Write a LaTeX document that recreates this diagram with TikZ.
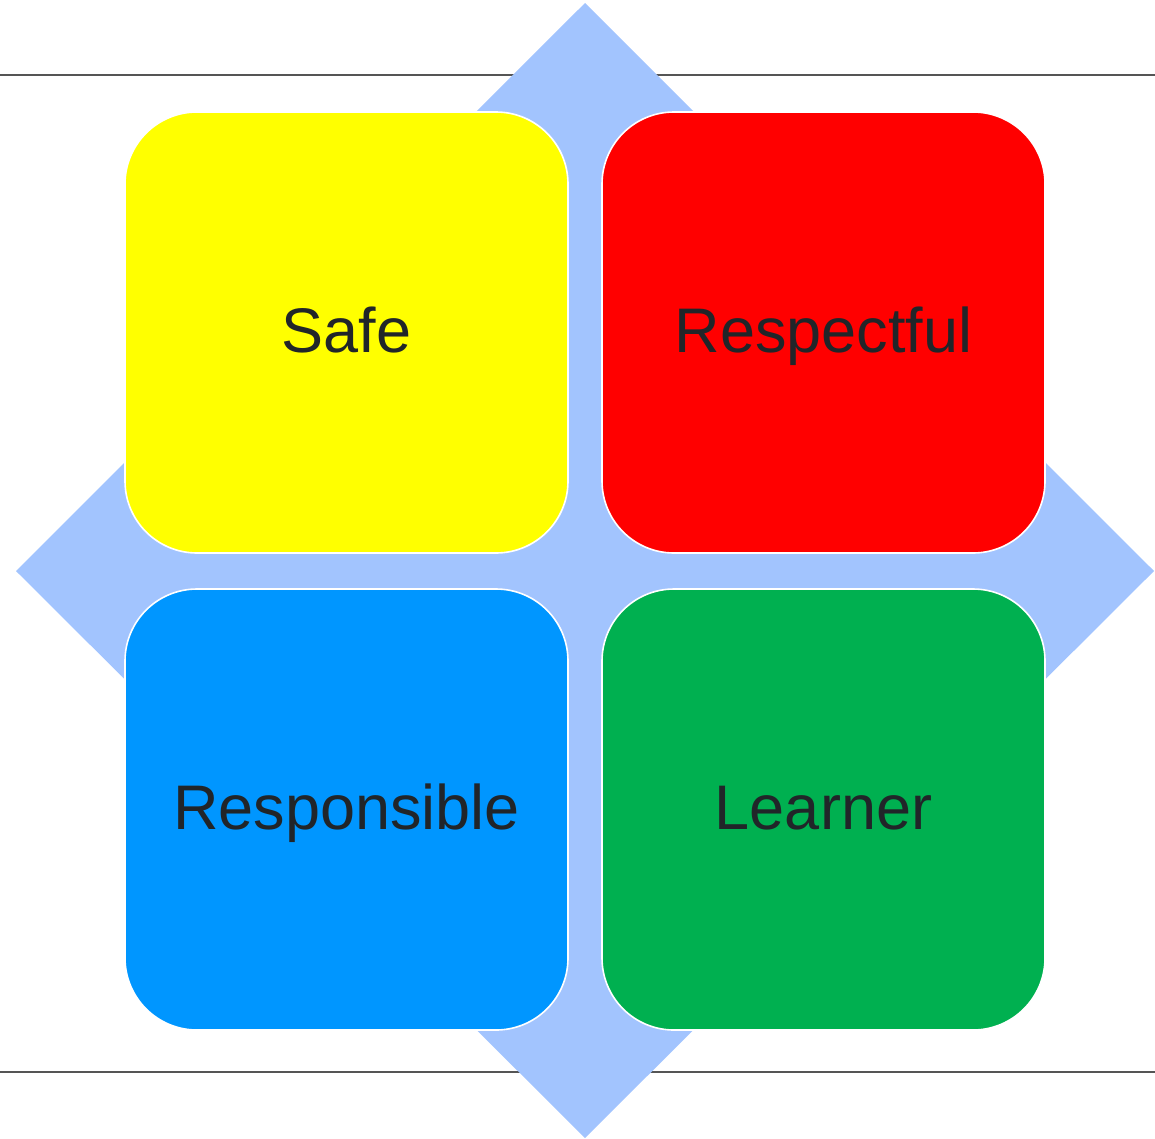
\documentclass[tikz,border=0pt]{standalone}
\usepackage{fontspec}
\setmainfont{Liberation Sans}
\usetikzlibrary{positioning}
\definecolor{crossblue}{RGB}{162,196,254}
\definecolor{safeyellow}{RGB}{255,255,0}
\definecolor{respred}{RGB}{255,0,0}
\definecolor{respblue}{RGB}{0,150,255}
\definecolor{learngreen}{RGB}{0,176,80}
\definecolor{tiletext}{RGB}{33,37,41}
\definecolor{rulegray}{RGB}{85,85,85}
\tikzset{
    tile/.style={rectangle, rounded corners=72pt, draw=white, line width=1.6pt,
        minimum width=443pt, minimum height=441pt, text=tiletext,
        font=\fontsize{63}{70}\selectfont, text height=45pt, text depth=6pt},
    rule/.style={draw=rulegray, line width=1.3pt},
    cross/.style={fill=crossblue}}

\begin{document}
\begin{tikzpicture}
[x=1pt, y=-1pt]
\useasboundingbox (0,0) rectangle (1155,1138);
% page rules
\coordinate (ta) at (0,75);
\coordinate (tb) at (1155,75);
\coordinate (ba) at (0,1072);
\coordinate (bb) at (1155,1072);
\draw[rule] (ta) -- (tb);
\draw[rule] (ba) -- (bb);
% background diamond
\coordinate (n) at (585,3);
\coordinate (e) at (1154,571);
\coordinate (s) at (585,1138);
\coordinate (w) at (16,571);
\fill[cross] (n) -- (e) -- (s) -- (w) -- cycle;
% tiles
\node[tile, fill=safeyellow] (safe)  at (346.5,332.5)        {Safe};
\node[tile, fill=respred]    (resp)  [right=32.4pt of safe]  {Respectful};
\node[tile, fill=respblue]   (respo) [below=34.4pt of safe]  {Responsible};
\node[tile, fill=learngreen] (learn) [below=34.4pt of resp]  {Learner};
\end{tikzpicture}
\end{document}
